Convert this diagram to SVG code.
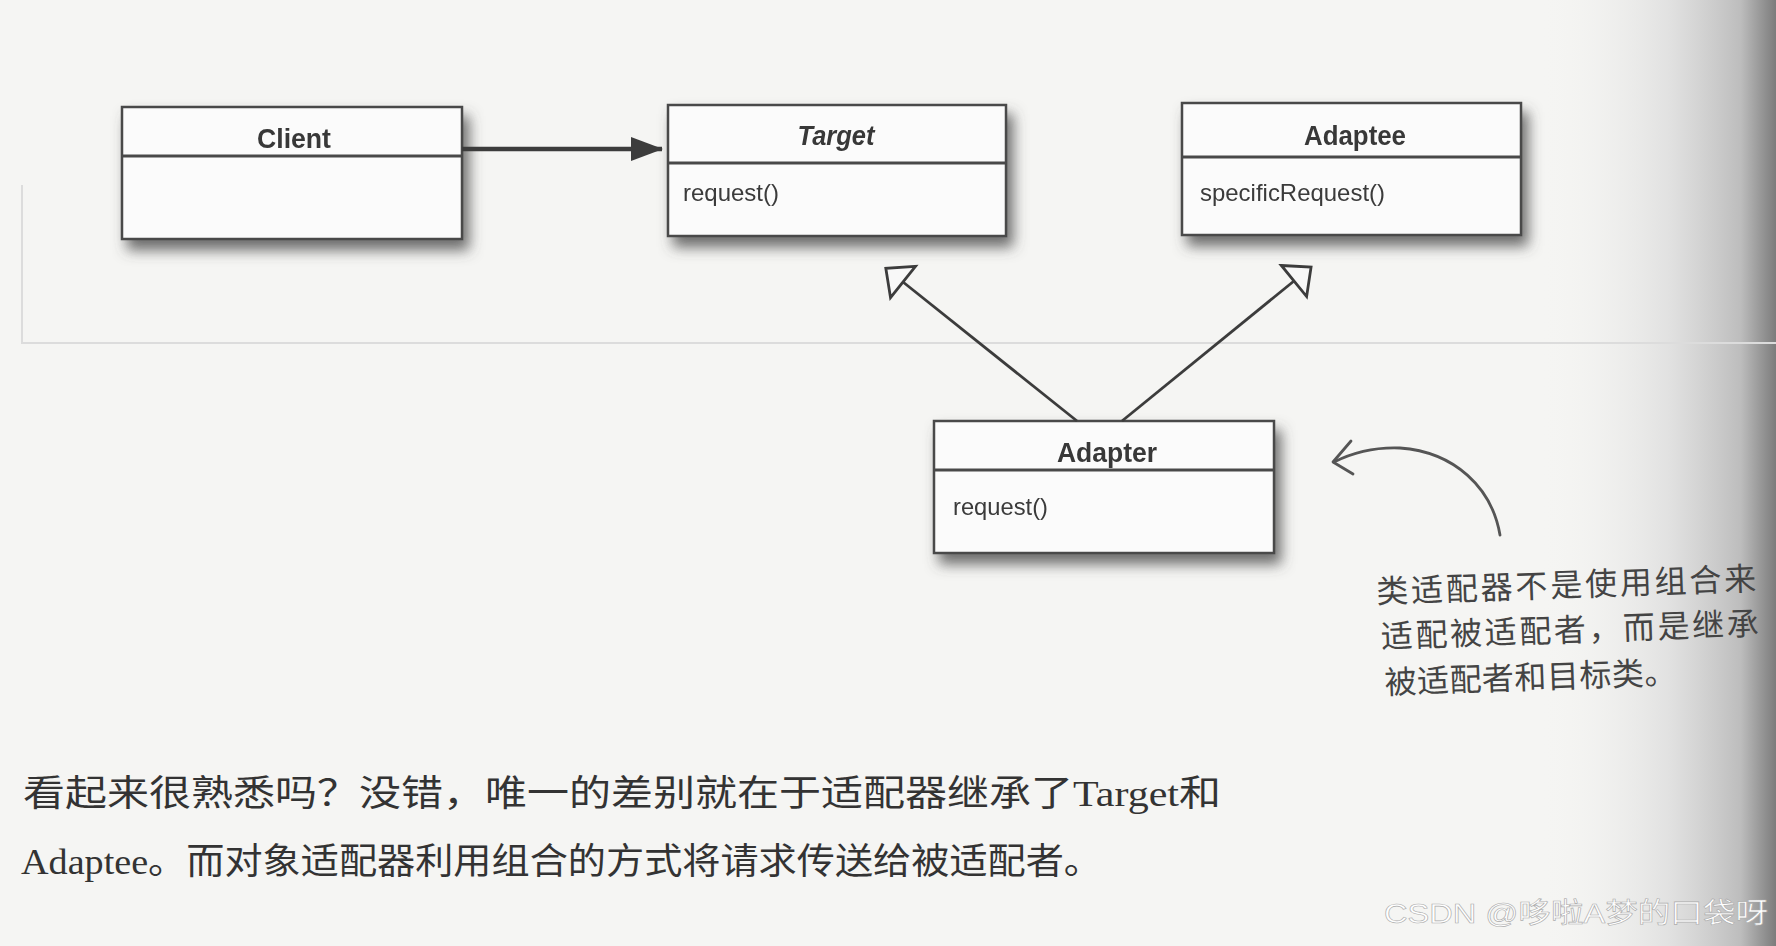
<svg xmlns="http://www.w3.org/2000/svg" width="1776" height="946" viewBox="0 0 1776 946">
<defs>
<linearGradient id="edge" x1="0" y1="0" x2="1" y2="0">
<stop offset="0" stop-color="#f5f5f3" stop-opacity="0"/>
<stop offset="0.55" stop-color="#dcdcdc" stop-opacity="0.8"/>
<stop offset="0.85" stop-color="#bdbdbd"/>
<stop offset="0.93" stop-color="#9a9a9a"/>
<stop offset="1" stop-color="#7c7c7c"/>
</linearGradient>
<filter id="shadow" x="-10%" y="-20%" width="130%" height="160%">
<feDropShadow dx="6" dy="10" stdDeviation="7" flood-color="#4a4a4a" flood-opacity="0.8"/>
</filter>
<marker id="filled" viewBox="0 0 32 24" refX="31" refY="12" markerWidth="32" markerHeight="24" markerUnits="userSpaceOnUse" orient="auto">
<path d="M0,0 L32,12 L0,24 Z" fill="#3c3c3c"/>
</marker>
<marker id="hollow" viewBox="0 0 26 44" refX="1" refY="22" markerWidth="26" markerHeight="44" markerUnits="userSpaceOnUse" orient="auto" overflow="visible">
<path d="M1,2 L23,22 L1,42 Z" fill="#f8f8f8" stroke="#3c3c3c" stroke-width="2.8" stroke-linejoin="miter"/>
</marker>
<style>
.box{fill:#fbfbfb;stroke:#4a4a4a;stroke-width:2.5}
.div{stroke:#4a4a4a;stroke-width:3}
.name{font-family:"Liberation Sans",Arial,sans-serif;font-weight:bold;font-size:27px;fill:#383838;text-anchor:middle}
.op{font-family:"Liberation Sans",Arial,sans-serif;font-size:24px;fill:#3a3a3a}
.conn{stroke:#3c3c3c;fill:none}
.hand{font-family:"Noto Sans CJK SC",sans-serif;font-size:32px;fill:#444;font-weight:normal}
.body{font-family:"Liberation Serif","Noto Sans CJK SC",serif;font-size:36px;fill:#333}
</style>
</defs>
<rect x="0" y="0" width="1776" height="946" fill="#f5f5f3"/>
<rect x="1540" y="0" width="236" height="946" fill="url(#edge)"/>
<g id="frame" stroke="#dcdcdc" stroke-width="2" fill="none">
<path d="M22,185 L22,343 L1776,343"/>
</g>

<g id="client" filter="url(#shadow)">
<rect class="box" x="122" y="107" width="340" height="132"/>
<line class="div" x1="122" y1="156" x2="462" y2="156"/>
<text class="name" x="294" y="148" textLength="74" lengthAdjust="spacingAndGlyphs">Client</text>
</g>

<g id="target" filter="url(#shadow)">
<rect class="box" x="668" y="105" width="338" height="131"/>
<line class="div" x1="668" y1="163" x2="1006" y2="163"/>
<text class="name" x="836" y="145" font-style="italic" textLength="77" lengthAdjust="spacingAndGlyphs">Target</text>
<text class="op" x="683" y="201" textLength="96" lengthAdjust="spacingAndGlyphs">request()</text>
</g>

<g id="adaptee" filter="url(#shadow)">
<rect class="box" x="1182" y="103" width="339" height="132"/>
<line class="div" x1="1182" y1="157" x2="1521" y2="157"/>
<text class="name" x="1355" y="145" textLength="102" lengthAdjust="spacingAndGlyphs">Adaptee</text>
<text class="op" x="1200" y="201" textLength="185" lengthAdjust="spacingAndGlyphs">specificRequest()</text>
</g>

<g id="adapter" filter="url(#shadow)">
<rect class="box" x="934" y="421" width="340" height="132"/>
<line class="div" x1="934" y1="470" x2="1274" y2="470"/>
<text class="name" x="1107" y="462" textLength="100" lengthAdjust="spacingAndGlyphs">Adapter</text>
<text class="op" x="953" y="515" textLength="95" lengthAdjust="spacingAndGlyphs">request()</text>
</g>

<g id="connectors">
<line class="conn" x1="462" y1="149" x2="662" y2="149" stroke-width="4.5" marker-end="url(#filled)"/>
<line class="conn" x1="1077" y1="421" x2="903" y2="282" stroke-width="2.8" marker-end="url(#hollow)"/>
<line class="conn" x1="1122" y1="421" x2="1294" y2="281" stroke-width="2.8" marker-end="url(#hollow)"/>
</g>

<g id="note">
<path d="M1500,535 C1492,488 1455,452 1400,448 C1375,447 1352,453 1334,462" stroke="#555" stroke-width="2.8" fill="none" stroke-linecap="round"/>
<path d="M1351,441 L1333,462 L1353,474" stroke="#555" stroke-width="2.8" fill="none" stroke-linecap="round" stroke-linejoin="round"/>
<g transform="rotate(-2 1380 610)">
<text class="hand" x="1377" y="603" textLength="380" lengthAdjust="spacing">类适配器不是使用组合来</text>
<text class="hand" x="1380" y="648" textLength="378" lengthAdjust="spacing">适配被适配者，而是继承</text>
<text class="hand" x="1382" y="694" textLength="292" lengthAdjust="spacing">被适配者和目标类。</text>
</g>
</g>

<g id="caption">
<text class="body" x="23" y="806" textLength="1198" lengthAdjust="spacingAndGlyphs">看起来很熟悉吗？没错，唯一的差别就在于适配器继承了Target和</text>
<text class="body" x="21" y="874" textLength="1081" lengthAdjust="spacingAndGlyphs">Adaptee。而对象适配器利用组合的方式将请求传送给被适配者。</text>
</g>

<text x="1384" y="923" font-family="Liberation Sans,Noto Sans CJK SC,sans-serif" font-size="28" fill="#ffffff" stroke="#ababab" stroke-width="0.6" textLength="384" lengthAdjust="spacingAndGlyphs">CSDN @哆啦A梦的口袋呀</text>
</svg>
